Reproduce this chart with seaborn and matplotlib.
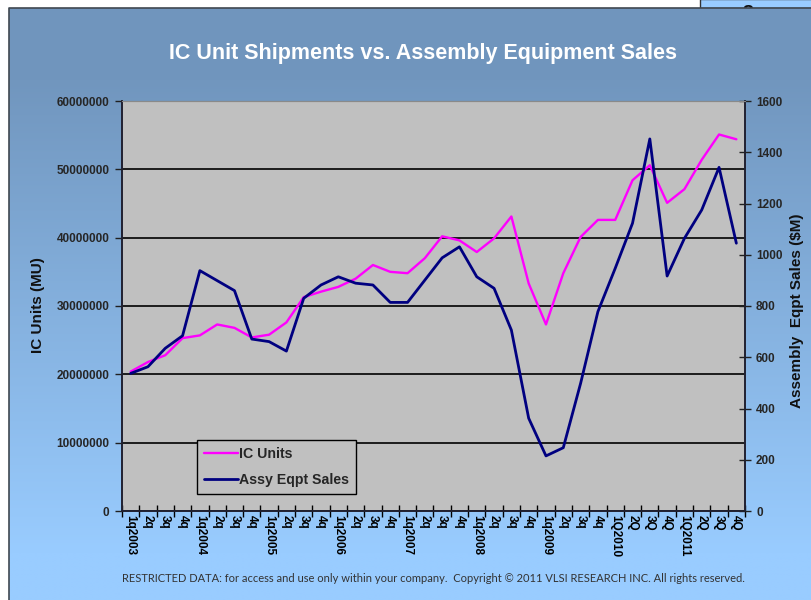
import numpy as np
import pandas as pd
import matplotlib
matplotlib.use("Agg")
import matplotlib.pyplot as plt
import seaborn as sns
from matplotlib.ticker import FuncFormatter, MultipleLocator, FixedLocator
from matplotlib.patches import Rectangle
from matplotlib.lines import Line2D

# ---------------- data ----------------
tick_labels = [
    "1q2003", "2q", "3q", "4q",
    "1q2004", "2q", "3q", "4q",
    "1q2005", "2q", "3q", "4q",
    "1q2006", "2q", "3q", "4q",
    "1q2007", "2q", "3q", "4q",
    "1q2008", "2q", "3q", "4q",
    "1q2009", "2q", "3q", "4q",
    "1Q2010", "2Q", "3Q", "4Q",
    "1Q2011", "2Q", "3Q", "4Q",
]
ic_units = [
    20400000, 21800000, 22800000, 25300000,
    25700000, 27300000, 26800000, 25400000,
    25800000, 27600000, 31300000, 32100000,
    32800000, 34000000, 36000000, 35000000,
    34800000, 37000000, 40200000, 39600000,
    37900000, 39900000, 43100000, 33300000,
    27300000, 34800000, 40100000, 42600000,
    42600000, 48400000, 50600000, 45100000,
    47100000, 51400000, 55100000, 54400000,
]
assy_sales = [
    537, 563, 635, 684,
    938, 899, 860, 671,
    661, 624, 830, 882,
    914, 889, 882, 814,
    814, 901, 988, 1031,
    914, 869, 706, 362,
    215, 247, 498, 778,
    947, 1123, 1452, 917,
    1064, 1175, 1341, 1045,
]
series_names = ["IC Units", "Assy Eqpt Sales"]
title = "IC Unit Shipments vs. Assembly Equipment Sales"
left_label = "IC Units (MU)"
right_label = "Assembly  Eqpt Sales ($M)"
footer = ("RESTRICTED DATA: for access and use only within your company.  "
          "Copyright \u00a9 2011 VLSI RESEARCH INC. All rights reserved.")

df = pd.DataFrame({"pos": np.arange(len(tick_labels)),
                   "ic": ic_units, "assy": assy_sales})

# ---------------- style ----------------
sns.set_theme(style="white")
plt.rcParams["font.family"] = ["Liberation Sans", "DejaVu Sans"]

W, H = 812, 600
fig = plt.figure(figsize=(W / 100, H / 100), dpi=100)
fig.patch.set_facecolor("white")

# background panel with gradient
bg = fig.add_axes([0, 0, 1, 1], zorder=-10)
bg.set_axis_off()
bg.set_xlim(0, W)
bg.set_ylim(H, 0)
box = Rectangle((700, -1), 113, 9, facecolor="#99CCFF", edgecolor="#333333",
                lw=1, zorder=-3)
bg.add_patch(box)
bg.text(748, 14, "8", fontsize=14, ha="center", va="center", color="#111111",
        fontweight="bold", zorder=-2)
t = np.linspace(0, 1, 400)
t = np.clip((t - 0.12) / 0.80, 0, 1)
top_c = np.array([0.443, 0.588, 0.745])
bot_c = np.array([0.600, 0.800, 1.000])
grad = top_c[None, :] * (1 - t[:, None]) + bot_c[None, :] * t[:, None]
grad = np.repeat(grad[:, None, :], 2, axis=1)
bg.imshow(grad, extent=[9, W, H, 8], aspect="auto", interpolation="bilinear",
          zorder=0)
bg.plot([9, 9, W], [H, 8, 8], color="#404850", lw=1.2, zorder=1)

# main axes
ax = fig.add_axes([122 / W, (H - 511) / H, 623 / W, 410 / H])
ax.set_facecolor("#C0C0C0")
sns.lineplot(data=df, x="pos", y="ic", ax=ax, color="#FF00FF", lw=1.7, legend=False)
ax2 = ax.twinx()
sns.lineplot(data=df, x="pos", y="assy", ax=ax2, color="#000080", lw=2.0, legend=False)

n = len(tick_labels)
ax.set_xlim(-0.5, n - 0.5)
ax.set_ylim(0, 60000000)
ax2.set_ylim(0, 1600)
ax.set_xlabel("")
ax.set_ylabel("")
ax2.set_ylabel("")

ax.yaxis.set_major_locator(MultipleLocator(10000000))
ax.yaxis.set_major_formatter(FuncFormatter(lambda v, p: f"{int(round(v))}"))
ax.grid(axis="y", color="black", lw=1.2)
ax.grid(axis="x", visible=False)
ax.set_axisbelow(True)
ax2.yaxis.set_major_locator(MultipleLocator(200))
ax2.grid(False)

ax.set_xticks(np.arange(n))
ax.set_xticklabels(tick_labels, rotation=270, fontweight="bold", fontsize=8.5)
ax.xaxis.set_minor_locator(FixedLocator(np.arange(-0.5, n, 1.0)))
ax.tick_params(axis="x", which="major", length=0, pad=3, colors="black")
ax.tick_params(axis="x", which="minor", bottom=True, direction="inout",
               length=8, width=1, color="black")
ax.tick_params(axis="y", which="major", left=True, direction="out", length=5,
               width=1, color="#202020", labelsize=8.5, pad=4)
for lab in ax.get_yticklabels():
    lab.set_fontweight("bold")
ax2.tick_params(axis="y", which="major", right=True, direction="inout", length=8,
                width=1, color="#202020", labelsize=8.5, pad=4)
for lab in ax2.get_yticklabels():
    lab.set_fontweight("bold")

for a in (ax, ax2):
    for s in ("left", "bottom", "right"):
        a.spines[s].set_color("#202030")
        a.spines[s].set_linewidth(1.2)
    a.spines["top"].set_color("#8a8a8a")
    a.spines["top"].set_linewidth(0.8)

handles = [Line2D([], [], color="#FF00FF", lw=1.7),
           Line2D([], [], color="#000080", lw=2.0)]
leg = ax2.legend(handles, series_names, loc="lower left",
                 bbox_to_anchor=(0.120, 0.042), frameon=True, fancybox=False,
                 framealpha=1, facecolor="#C0C0C0", edgecolor="black",
                 prop={"weight": "bold", "size": 10.2}, handlelength=2.4,
                 handletextpad=0.1, labelspacing=0.85, borderpad=0.5,
                 borderaxespad=0)
leg.get_frame().set_linewidth(1.0)

# texts
fig.text(423 / W, 1 - 53 / H, title, color="white", fontweight="bold",
         fontsize=15.5, ha="center", va="center")
fig.text(38 / W, 1 - 305 / H, left_label, rotation=90, fontweight="bold",
         fontsize=11, ha="center", va="center", color="#111111")
fig.text(797 / W, 1 - 311 / H, right_label, rotation=90, fontweight="bold",
         fontsize=11, ha="center", va="center", color="#111111")
fig.text(122 / W, 1 - 579 / H, footer, fontsize=8.05, ha="left", va="center",
         color="#333333", family=["Lato", "DejaVu Sans"])

fig.savefig("out.png", dpi=100)
